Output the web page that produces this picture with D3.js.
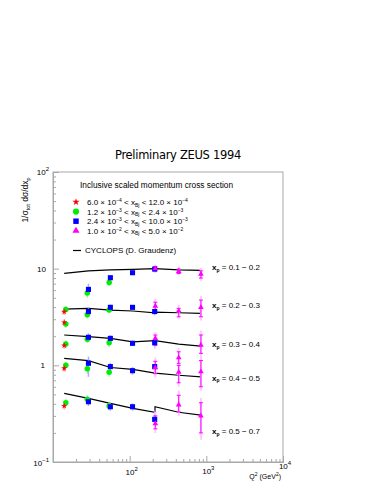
<!DOCTYPE html>
<html>
<head>
  <meta charset="UTF-8">
  <title>Preliminary ZEUS 1994</title>
  <script src="https://d3js.org/d3.v7.min.js"></script>
  <style>
    body { margin: 0; background: #fff; }
    text { font-family: "Liberation Sans", Arial, sans-serif; fill: #000; }
  </style>
</head>
<body>
  <svg width="382" height="494"></svg>

  <script>
    // x_p bins (one curve + one label per bin)
    const xpLabels = ["0.1 \u2212 0.2", "0.2 \u2212 0.3", "0.3 \u2212 0.4", "0.4 \u2212 0.5", "0.5 \u2212 0.7"];

    // CYCLOPS prediction, Q2 nodes (214 twice: step between x_Bj bins)
    const cyclopsQ2 = [14, 29, 56, 110, 214, 214, 436, 850];
    const cyclops = [
      [8.95, 9.5, 9.7, 9.85, 10.0, 10.0, 9.7, 9.6],
      [3.82, 3.89, 3.73, 3.65, 3.5, 3.55, 3.5, 3.45],
      [2.06, 1.98, 1.9, 1.75, 1.8, 1.8, 1.66, 1.58],
      [1.18, 1.12, 0.95, 0.91, 0.83, 0.83, 0.79, 0.76],
      [0.513, 0.456, 0.404, 0.359, 0.327, 0.373, 0.327, 0.306]
    ];

    // data points: [xp bin, Q2, value, low, high]
    const red = [
      [0, 14, 3.58, 3.3, 3.9], [1, 14, 2.78, 2.55, 3.0], [2, 14, 1.6, 1.48, 1.72],
      [3, 14, 0.93, 0.86, 1.0], [4, 14, 0.38, 0.35, 0.41]
    ];
    const green = [
      [0, 14.7, 3.79, 3.5, 4.1], [1, 14.7, 2.67, 2.45, 2.9], [2, 14.7, 1.66, 1.5, 1.82],
      [3, 14.7, 1.0, 0.92, 1.08], [4, 14.7, 0.41, 0.37, 0.45],
      [0, 28, 5.6, 5.0, 6.2], [1, 28, 3.34, 3.05, 3.65], [2, 28, 1.86, 1.7, 2.05],
      [3, 28, 0.92, 0.82, 1.02], [4, 28, 0.445, 0.4, 0.49],
      [0, 54, 7.2, 6.6, 7.8], [1, 54, 3.73, 3.45, 4.0], [2, 54, 1.71, 1.55, 1.88],
      [3, 54, 0.85, 0.76, 0.94], [4, 54, 0.38, 0.34, 0.42]
    ];
    const blue = [
      [0, 29, 6.1, 5.55, 7.0], [1, 29, 3.6, 3.3, 3.95], [2, 29, 1.95, 1.75, 2.15],
      [3, 29, 1.05, 0.76, 1.23], [4, 29, 0.42, 0.38, 0.47],
      [0, 56, 8.06, 7.5, 8.6], [1, 56, 3.98, 3.7, 4.25], [2, 56, 1.9, 1.75, 2.05],
      [3, 56, 0.97, 0.88, 1.06], [4, 56, 0.373, 0.34, 0.41],
      [0, 109, 9.08, 8.6, 9.6], [1, 109, 3.98, 3.75, 4.2], [2, 109, 1.69, 1.58, 1.8],
      [3, 109, 0.88, 0.8, 0.96], [4, 109, 0.373, 0.34, 0.405],
      [0, 212, 9.9, 9.4, 10.4], [1, 212, 3.6, 3.3, 3.95], [2, 212, 1.71, 1.5, 1.95],
      [3, 212, 0.97, 0.79, 1.09], [4, 212, 0.276, 0.24, 0.345]
    ];
    // magenta: [xp bin, Q2, value, stat low, stat high, total low, total high]
    const magenta = [
      [0, 216, 10.0, 9.5, 10.5, 9.0, 11.0], [0, 436, 9.4, 8.9, 9.9, 8.5, 10.4], [0, 850, 8.8, 8.0, 9.5, 7.5, 10.2],
      [1, 216, 4.1, 3.7, 4.5, 3.4, 4.9], [1, 436, 3.65, 3.18, 3.89, 3.0, 4.2], [1, 850, 3.98, 3.18, 4.73, 2.9, 5.2],
      [2, 216, 1.9, 1.62, 2.06, 1.5, 2.2], [2, 436, 1.2, 1.05, 1.38, 0.95, 1.5], [2, 850, 1.62, 1.33, 2.06, 1.2, 2.3],
      [3, 216, 0.95, 0.82, 1.1, 0.75, 1.2], [3, 436, 0.85, 0.66, 1.0, 0.6, 1.1], [3, 850, 0.86, 0.6, 1.12, 0.55, 1.25],
      [4, 216, 0.25, 0.22, 0.3, 0.2, 0.33], [4, 436, 0.39, 0.33, 0.49, 0.3, 0.55], [4, 850, 0.3, 0.2, 0.41, 0.17, 0.46]
    ];

    const legendRows = [
      { sym: d3.symbolStar, color: "#ff0000", size: 16, a: "6.0", ea: "\u22124", b: "12.0", eb: "\u22124" },
      { sym: d3.symbolCircle, color: "#00ee00", size: 30, a: "1.2", ea: "\u22123", b: "2.4", eb: "\u22123" },
      { sym: d3.symbolSquare, color: "#0000ff", size: 30, a: "2.4", ea: "\u22123", b: "10.0", eb: "\u22123" },
      { sym: d3.symbolTriangle, color: "#ff00ff", size: 22, a: "1.0", ea: "\u22122", b: "5.0", eb: "\u22122" }
    ];

    const svg = d3.select("svg");

    const x = d3.scaleLog().domain([10, 1e4]).range([53, 283]);
    const y = d3.scaleLog().domain([0.1, 100]).range([462, 172]);

    // frame
    svg.append("rect")
      .attr("x", 53).attr("y", 172)
      .attr("width", 230).attr("height", 290)
      .attr("fill", "none")
      .attr("stroke", "#a8a8a8")
      .attr("stroke-width", 1);

    // ticks (inside)
    const yMajor = [0.1, 1, 10, 100];
    const yMinor = [];
    [0.1, 1, 10].forEach(d => { for (let k = 2; k <= 9; k++) yMinor.push(d * k); });
    const xMajor = [100, 1000];
    const xMinor = [];
    [10, 100, 1000].forEach(d => { for (let k = 2; k <= 9; k++) xMinor.push(d * k); });

    const axisStyle = g => {
      g.select(".domain").attr("stroke", "#a8a8a8");
      g.selectAll(".tick line").attr("stroke", "#a8a8a8");
      g.selectAll(".tick text").remove();
    };

    svg.append("g").attr("transform", "translate(53,0)")
      .call(d3.axisLeft(y).tickValues(yMajor).tickSize(-6).tickFormat(""))
      .call(axisStyle);
    svg.append("g").attr("transform", "translate(53,0)")
      .call(d3.axisLeft(y).tickValues(yMinor).tickSize(-3).tickFormat(""))
      .call(axisStyle);
    svg.append("g").attr("transform", "translate(0,462)")
      .call(d3.axisBottom(x).tickValues(xMajor).tickSize(-6).tickFormat(""))
      .call(axisStyle);
    svg.append("g").attr("transform", "translate(0,462)")
      .call(d3.axisBottom(x).tickValues(xMinor).tickSize(-3).tickFormat(""))
      .call(axisStyle);

    // tick labels with superscripts
    function powLabel(g, px, py, base, exp, anchor) {
      const t = g.append("text").attr("x", px).attr("y", py)
        .attr("text-anchor", anchor).style("font-size", "8px");
      t.append("tspan").text(base);
      if (exp) t.append("tspan").attr("dy", -4).style("font-size", "6px").text(exp);
      return t;
    }
    const labels = svg.append("g");
    powLabel(labels, 49, y(100) + 3, "10", "2", "end");
    powLabel(labels, 46, y(10) + 3, "10", null, "end");
    powLabel(labels, 45, y(1) + 3, "1", null, "end");
    powLabel(labels, 49, y(0.1) + 4, "10", "\u22121", "end");
    powLabel(labels, x(100) + 2, 475, "10", "2", "middle");
    powLabel(labels, x(1000) + 2, 474, "10", "3", "middle");
    powLabel(labels, x(10000) + 2, 469, "10", "4", "middle");

    // x axis title
    const xt = svg.append("text").attr("x", 281).attr("y", 479)
      .attr("text-anchor", "end").style("font-size", "7px");
    xt.append("tspan").text("Q");
    xt.append("tspan").attr("dy", -3).style("font-size", "5px").text("2");
    xt.append("tspan").attr("dy", 3).text(" (GeV");
    xt.append("tspan").attr("dy", -3).style("font-size", "5px").text("2");
    xt.append("tspan").attr("dy", 3).text(")");

    // y axis title
    const yt = svg.append("text")
      .attr("transform", "translate(28,200) rotate(-90)")
      .attr("text-anchor", "middle").style("font-size", "8.5px");
    yt.append("tspan").text("1/\u03c3");
    yt.append("tspan").attr("dy", 2).style("font-size", "5.5px").text("tot");
    yt.append("tspan").attr("dy", -2).text(" d\u03c3/dx");
    yt.append("tspan").attr("dy", 2).style("font-size", "5.5px").text("p");

    // title
    svg.append("text")
      .attr("x", 178).attr("y", 159)
      .attr("text-anchor", "middle")
      .style("font-size", "11.5px")
      .style("font-family", "'DejaVu Sans', sans-serif")
      .style("letter-spacing", "-0.3px")
      .text("Preliminary ZEUS 1994");

    // legend
    const leg = svg.append("g");
    leg.append("text").attr("x", 80).attr("y", 188)
      .style("font-size", "8.3px")
      .text("Inclusive scaled momentum cross section");

    legendRows.forEach((r, i) => {
      const cy = 202 + i * 9.6;
      leg.append("path")
        .attr("d", d3.symbol().type(r.sym).size(r.size))
        .attr("transform", `translate(76,${cy})`)
        .attr("fill", r.color);
      const t = leg.append("text").attr("x", 87).attr("y", cy + 3).style("font-size", "8px");
      t.append("tspan").text(`${r.a} \u00d7 10`);
      t.append("tspan").attr("dy", -3).style("font-size", "5px").text(r.ea);
      t.append("tspan").attr("dy", 3).text(" < x");
      t.append("tspan").attr("dy", 1.5).style("font-size", "5px").text("Bj");
      t.append("tspan").attr("dy", -1.5).text(` < ${r.b} \u00d7 10`);
      t.append("tspan").attr("dy", -3).style("font-size", "5px").text(r.eb);
    });

    leg.append("line").attr("x1", 73).attr("x2", 81)
      .attr("y1", 250.5).attr("y2", 250.5)
      .attr("stroke", "#000").attr("stroke-width", 1.2);
    leg.append("text").attr("x", 85).attr("y", 252.5)
      .style("font-size", "8px")
      .text("CYCLOPS (D. Graudenz)");

    // CYCLOPS curves
    const line = d3.line()
      .x(d => x(d[0]))
      .y(d => y(d[1]));
    cyclops.forEach(vals => {
      svg.append("path")
        .datum(cyclopsQ2.map((q, i) => [q, vals[i]]))
        .attr("fill", "none")
        .attr("stroke", "#000")
        .attr("stroke-width", 1.2)
        .attr("d", line);
    });

    // faint error bars for red / green / blue
    const pts = svg.append("g");
    [[red, "#ff9999"], [green, "#99ee99"], [blue, "#9999ff"]].forEach(([data, c]) => {
      pts.selectAll(null).data(data).enter().append("line")
        .attr("x1", d => x(d[1])).attr("x2", d => x(d[1]))
        .attr("y1", d => y(d[3])).attr("y2", d => y(d[4]))
        .attr("stroke", c).attr("stroke-width", 1.5).attr("opacity", 0.8);
    });

    // magenta: pale total bar, then stat bar with caps
    pts.selectAll(null).data(magenta).enter().append("line")
      .attr("x1", d => x(d[1])).attr("x2", d => x(d[1]))
      .attr("y1", d => y(d[5])).attr("y2", d => y(d[6]))
      .attr("stroke", "#ffc8ff").attr("stroke-width", 2);
    pts.selectAll(null).data(magenta).enter().append("line")
      .attr("x1", d => x(d[1])).attr("x2", d => x(d[1]))
      .attr("y1", d => y(d[3])).attr("y2", d => y(d[4]))
      .attr("stroke", "#ff00ff").attr("stroke-width", 1);
    [3, 4].forEach(k => {
      pts.selectAll(null).data(magenta).enter().append("line")
        .attr("x1", d => x(d[1]) - 2).attr("x2", d => x(d[1]) + 2)
        .attr("y1", d => y(d[k])).attr("y2", d => y(d[k]))
        .attr("stroke", "#ff00ff").attr("stroke-width", 1);
    });

    // markers
    const marks = [
      [green, d3.symbolCircle, "#00ee00", 24],
      [red, d3.symbolStar, "#ff0000", 12],
      [blue, d3.symbolSquare, "#0000ff", 26],
      [magenta, d3.symbolTriangle, "#ff00ff", 14]
    ];
    marks.forEach(([data, sym, c, s]) => {
      pts.selectAll(null).data(data).enter().append("path")
        .attr("d", d3.symbol().type(sym).size(s))
        .attr("transform", d => `translate(${x(d[1])},${y(d[2])})`)
        .attr("fill", c);
    });

    // x_p labels at right end of each curve
    xpLabels.forEach((lab, i) => {
      const yv = y(cyclops[i][cyclops[i].length - 1]);
      const off = [-1, -6, 0, 3, 18][i];
      const t = svg.append("text").attr("x", 212).attr("y", yv + off + 1)
        .style("font-size", "8px");
      t.append("tspan").style("font-weight", "bold").text("x");
      t.append("tspan").attr("dy", 1.5).style("font-size", "5px").style("font-weight", "bold").text("p");
      t.append("tspan").attr("dy", -1.5).text(` = ${lab}`);
    });
  </script>
</body>
</html>
